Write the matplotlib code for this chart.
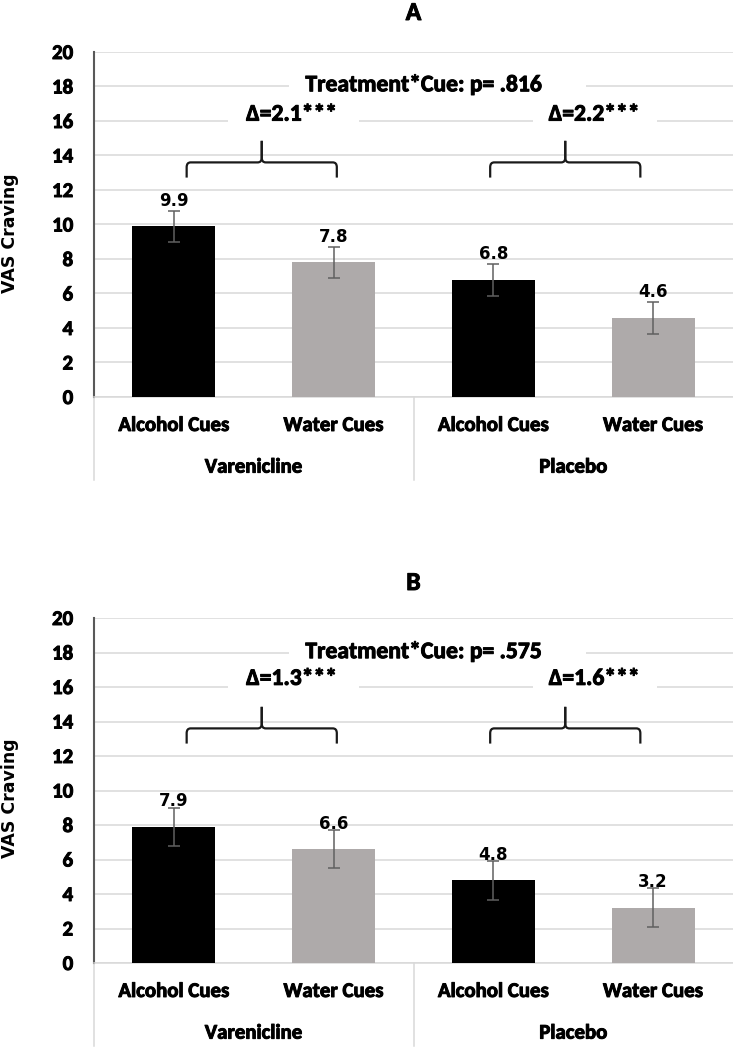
import matplotlib
matplotlib.use('Agg')
import matplotlib.pyplot as plt
import matplotlib.patheffects as pe
from matplotlib.path import Path
from matplotlib.patches import PathPatch, Rectangle
from matplotlib.transforms import blended_transform_factory

# ---------------- data ----------------
cues = ['Alcohol Cues', 'Water Cues', 'Alcohol Cues', 'Water Cues']
groups = ['Varenicline', 'Placebo']
panel_titles = ['A', 'B']
yticks = [0, 2, 4, 6, 8, 10, 12, 14, 16, 18, 20]

means_a = [9.9, 7.8, 6.8, 4.6]
err_a = [0.9, 0.9, 0.93, 0.93]
means_b = [7.9, 6.6, 4.8, 3.2]
err_b = [1.1, 1.1, 1.13, 1.12]

deltas_a = ['Δ=2.1***', 'Δ=2.2***']
deltas_b = ['Δ=1.3***', 'Δ=1.6***']
interaction_a = 'Treatment*Cue: p= .816'
interaction_b = 'Treatment*Cue: p= .575'

bar_colors = ['#000000', '#aeaaaa', '#000000', '#aeaaaa']
ylabel = 'VAS Craving'

# ---------------- style ----------------
CAL = ['Carlito', 'DejaVu Sans']
HEAVY = [pe.withStroke(linewidth=0.7, foreground='#000000')]
W, H = 733, 1050
fig = plt.figure(figsize=(W / 100, H / 100), dpi=100)
renderer = fig.canvas.get_renderer()

GRID = '#d9d9d9'


def brace(ax, x0, x1, y_end, y_mid, y_tip, rx=0.025, ry=0.28):
    xc = (x0 + x1) / 2
    for s, xe in ((1, x0), (-1, x1)):
        verts = [(xe, y_end), (xe, y_mid - ry), (xe, y_mid), (xe + s * rx, y_mid),
                 (xc - s * rx, y_mid), (xc, y_mid), (xc, y_mid + ry), (xc, y_tip)]
        codes = [Path.MOVETO, Path.LINETO, Path.CURVE3, Path.CURVE3,
                 Path.LINETO, Path.CURVE3, Path.CURVE3, Path.LINETO]
        ax.add_patch(PathPatch(Path(verts, codes), fill=False, lw=1.6,
                               edgecolor='#1a1a1a', capstyle='butt', zorder=5))


def boxed_text(ax, x, y, s, size, padl, padr, padv=3):
    t = ax.text(x, y, s, ha='center', va='center', family=CAL, fontweight='bold',
                fontsize=size, zorder=6, path_effects=HEAVY)
    bb = t.get_window_extent(renderer=renderer)
    ax.add_patch(Rectangle((bb.x0 - padl, bb.y0 - padv), bb.width + padl + padr,
                           bb.height + 2 * padv, transform=None, facecolor='white',
                           edgecolor='none', zorder=1))
    return t


def panel(rect_px, means, errs, deltas, interaction, title, title_base_px,
          ylabel_center_px, y_int, y_delta):
    left, top, width, height = rect_px
    ax = fig.add_axes([left / W, 1 - (top + height) / H, width / W, height / H])
    x = list(range(len(cues)))
    ax.bar(x, means, width=0.52, color=bar_colors, zorder=3)
    ax.errorbar(x, means, yerr=errs, fmt='none', ecolor='#606060', elinewidth=1.1,
                capsize=4, capthick=1.1, zorder=4)
    for xi, m in zip(x, means):
        ax.annotate(f'{m:.1f}', (xi, m), xytext=(0, 14.8), textcoords='offset points',
                    ha='center', va='baseline', fontsize=12, fontweight='bold',
                    family='DejaVu Sans', color='#000000', zorder=6)
    ax.set_xlim(-0.5, 3.5)
    ax.set_ylim(0, 20)
    ax.set_yticks(yticks)
    ax.set_yticklabels([str(t) for t in yticks], family=CAL, fontweight='bold',
                       fontsize=15)
    for lab in ax.get_yticklabels():
        lab.set_path_effects(HEAVY)
    ax.tick_params(axis='y', length=0, pad=15)
    ax.set_xticks([])
    ax.grid(axis='y', color=GRID, lw=1.1, zorder=0)
    ax.set_axisbelow(True)
    for s in ('top', 'right'):
        ax.spines[s].set_visible(False)
    ax.spines['left'].set_color('#595959')
    ax.spines['left'].set_linewidth(1.5)
    ax.spines['bottom'].set_color(GRID)
    ax.spines['bottom'].set_linewidth(1.1)

    # multi-level category axis
    trans = blended_transform_factory(ax.transData, ax.transAxes)
    for xi, c in zip(x, cues):
        ax.annotate(c, (xi, 0), xycoords=trans, xytext=(0, -20.5),
                    textcoords='offset points', ha='center', va='center',
                    family=CAL, fontweight='bold', fontsize=15, path_effects=HEAVY)
    for gi, g in enumerate(groups):
        ax.annotate(g, (gi * 2 + 0.5, 0), xycoords=trans, xytext=(0, -50.5),
                    textcoords='offset points', ha='center', va='center',
                    family=CAL, fontweight='bold', fontsize=15, path_effects=HEAVY)
    ybot = -83 / height
    for xs in (-0.5, 1.5):
        ax.plot([xs, xs], [0, ybot], transform=trans, color=GRID, lw=1.1,
                clip_on=False)

    # braces and annotations
    brace(ax, 0.08, 1.02, 12.72, 13.6, 14.85)
    brace(ax, 1.98, 2.92, 12.72, 13.6, 14.85)
    boxed_text(ax, 1.563, y_int, interaction, 17, 16, 44)
    boxed_text(ax, 0.736, y_delta, deltas[0], 17, 18, 22)
    boxed_text(ax, 2.63, y_delta, deltas[1], 17, 16, 18)

    fig.text((left + width / 2) / W, 1 - title_base_px / H, title, ha='center',
             va='baseline', family=CAL, fontweight='bold', fontsize=18.5,
             path_effects=HEAVY)
    fig.text(10 / W, 1 - ylabel_center_px / H, ylabel, rotation=90, ha='center',
             va='center', family='DejaVu Sans', fontweight='bold', fontsize=12.5)
    return ax


panel((94, 52, 639, 345), means_a, err_a, deltas_a, interaction_a, panel_titles[0],
      20, 233, 18.1, 16.4)
panel((94, 618, 639, 345), means_b, err_b, deltas_b, interaction_b, panel_titles[1],
      590, 798, 18.05, 16.5)

fig.savefig('out.png', dpi=100, facecolor='white')
